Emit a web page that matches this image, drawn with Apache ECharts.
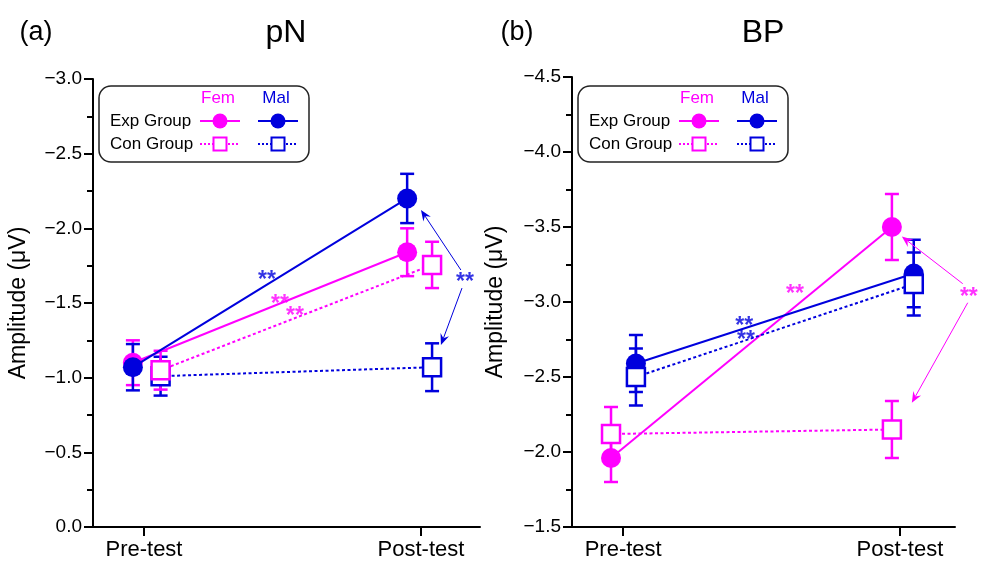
<!DOCTYPE html>
<html><head><meta charset="utf-8">
<script src="https://cdn.jsdelivr.net/npm/echarts@6/dist/echarts.min.js"></script>
<style>html,body{margin:0;padding:0;background:#fff}#c{width:981px;height:562px}</style>
</head><body><div id="c"></div>
<script>
// ---------- data ----------
const categories = ['Pre-test', 'Post-test'];
const categoryValues = [0, 1];

// Panel (a) pN: means and error (±) per time point
const pnExpFem = [-1.10, -1.84];
const pnExpFemErr = [0.15, 0.16];
const pnExpMal = [-1.07, -2.20];
const pnExpMalErr = [0.155, 0.165];
const pnConFem = [-1.05, -1.755];
const pnConFemErr = [0.13, 0.155];
const pnConMal = [-1.01, -1.07];
const pnConMalErr = [0.13, 0.16];
// horizontal jitter (axis units) used in the figure
const pnExpX = [-0.04, 0.95];
const pnConX = [0.06, 1.04];

// Panel (b) BP
const bpExpFem = [-1.96, -3.50];
const bpExpFemErr = [0.16, 0.22];
const bpExpMal = [-2.59, -3.19];
const bpExpMalErr = [0.19, 0.225];
const bpConFem = [-2.12, -2.15];
const bpConFemErr = [0.18, 0.19];
const bpConMal = [-2.50, -3.12];
const bpConMalErr = [0.19, 0.21];
const bpFemX = [-0.044, 0.971];
const bpMalX = [0.046, 1.05];

// y-axis tick settings
const pnYRange = [-3.0, 0.0];
const bpYRange = [-4.5, -1.5];
const yStep = 0.5;

// significance annotations: [x, y, text, gender]
const pnStars = [[0.444, -1.68, '**', 'mal'], [0.491, -1.52, '**', 'fem'], [0.545, -1.44, '**', 'fem'], [1.159, -1.667, '**', 'mal']];
const pnArrows = [[1.144, -1.721, 1.0, -2.123], [1.148, -1.60, 1.072, -1.219]];
const bpStars = [[0.621, -3.082, '**', 'fem'], [0.437, -2.868, '**', 'mal'], [0.444, -2.775, '**', 'mal'], [1.249, -3.062, '**', 'fem']];
const bpArrows = [[1.227, -3.122, 1.007, -3.436], [1.245, -2.995, 1.043, -2.328]];

// ---------- styles ----------
const MAG = '#ff00ff';
const BLU = '#0000dd';
const gColor = g => g === 'fem' ? MAG : BLU;

function errRender(color) {
  return function (params, api) {
    const x = api.value(0), lo = api.value(1), hi = api.value(2);
    const p1 = api.coord([x, lo]), p2 = api.coord([x, hi]);
    const w = 7;
    const st = { stroke: color, lineWidth: 2.5, fill: null };
    return { type: 'group', children: [
      { type: 'line', shape: { x1: p1[0], y1: p1[1], x2: p2[0], y2: p2[1] }, style: st },
      { type: 'line', shape: { x1: p1[0] - w, y1: p1[1], x2: p1[0] + w, y2: p1[1] }, style: st },
      { type: 'line', shape: { x1: p2[0] - w, y1: p2[1], x2: p2[0] + w, y2: p2[1] }, style: st }
    ]};
  };
}

function arrowRender(color) {
  return function (params, api) {
    const p1 = api.coord([api.value(0), api.value(1)]);
    const p2 = api.coord([api.value(2), api.value(3)]);
    const ang = Math.atan2(p2[1] - p1[1], p2[0] - p1[0]);
    const c = Math.cos(ang), s = Math.sin(ang);
    const L = 11, W = 4.5;
    const bx = p2[0] - L * c, by = p2[1] - L * s;
    const nx = p2[0] - 0.65 * L * c, ny = p2[1] - 0.65 * L * s;
    return { type: 'group', children: [
      { type: 'line', shape: { x1: p1[0], y1: p1[1], x2: nx, y2: ny }, style: { stroke: color, lineWidth: 1 } },
      { type: 'polygon', shape: { points: [p2, [bx - s * W, by + c * W], [nx, ny], [bx + s * W, by - c * W]] },
        style: { fill: color, stroke: null } }
    ]};
  };
}

function groupSeries(idx, xs, ys, errs, color, isExp, z) {
  const pts = ys.map((v, i) => [xs[i], v]);
  const errData = ys.map((v, i) => [xs[i], v - errs[i], v + errs[i]]);
  return [
    { type: 'custom', xAxisIndex: idx, yAxisIndex: idx, renderItem: errRender(color),
      data: errData, encode: { x: 0, y: [1, 2] }, z: 2, silent: true, clip: false },
    { type: 'line', xAxisIndex: idx, yAxisIndex: idx, data: pts, z: z,
      symbol: isExp ? 'circle' : 'rect', symbolSize: isExp ? 20 : 18,
      itemStyle: isExp ? { color: color } : { color: '#fff', borderColor: color, borderWidth: 2.5 },
      lineStyle: { color: color, width: 2, type: isExp ? 'solid' : [3, 2.5] },
      emphasis: { disabled: true }, silent: true, animation: false, clip: false }
  ];
}

function annoSeries(idx, stars, arrows, arrowColor) {
  return [{
    type: 'scatter', xAxisIndex: idx, yAxisIndex: idx, z: 10, silent: true, clip: false,
    symbol: 'circle', symbolSize: 1, itemStyle: { color: 'rgba(0,0,0,0)' },
    data: stars.map(s => ({ value: [s[0], s[1]],
      label: { show: true, position: 'inside', formatter: s[2], color: gColor(s[3]),
        fontSize: 23, fontWeight: 'bold', fontFamily: 'Liberation Sans, Arial', offset: [0, 5] } }))
  }, {
    type: 'custom', xAxisIndex: idx, yAxisIndex: idx, z: 10, silent: true, clip: false,
    renderItem: arrowRender(arrowColor), data: arrows, encode: { x: [0, 2], y: [1, 3] }
  }];
}

const axisCol = '#000';
function xAx(idx, min, max) {
  return { type: 'value', gridIndex: idx, min: min, max: max, position: 'bottom',
    axisLine: { onZero: false, lineStyle: { color: axisCol, width: 2 } },
    axisTick: { show: true, customValues: categoryValues, length: 9, lineStyle: { color: axisCol, width: 2 } },
    axisLabel: { customValues: categoryValues, formatter: v => categories[Math.round(v)],
      fontSize: 22, color: '#000', margin: 12, fontFamily: 'Liberation Sans, Arial' },
    splitLine: { show: false } };
}
function yAx(idx, range, gap) {
  return { type: 'value', gridIndex: idx, min: range[0], max: range[1], interval: yStep, inverse: true,
    name: 'Amplitude (\u03BCV)', nameLocation: 'middle', nameGap: gap,
    nameTextStyle: { fontSize: 23, color: '#000', fontFamily: 'Liberation Sans, Arial' },
    axisLine: { show: true, onZero: false, lineStyle: { color: axisCol, width: 2 } },
    axisTick: { show: true, length: 9, lineStyle: { color: axisCol, width: 2 } },
    minorTick: { show: true, splitNumber: 2, length: 6, lineStyle: { color: axisCol, width: 2 } },
    axisLabel: { fontSize: 19, color: '#000', margin: 11, fontFamily: 'Liberation Sans, Arial',
      formatter: v => (Math.abs(v) < 1e-9 ? '0.0' : (v < 0 ? '\u2212' : '') + Math.abs(v).toFixed(1)) },
    splitLine: { show: false }, minorSplitLine: { show: false } };
}

function legendGraphic(ox) {
  const f = 'Liberation Sans, Arial';
  const els = [
    { type: 'rect', shape: { x: 99 + ox, y: 86, width: 210, height: 76, r: 12 },
      style: { fill: '#fff', stroke: '#222', lineWidth: 1.5 } },
    { type: 'text', x: 218 + ox, y: 98, style: { text: 'Fem', fill: MAG, fontSize: 17, fontFamily: f, align: 'center', verticalAlign: 'middle' } },
    { type: 'text', x: 276 + ox, y: 98, style: { text: 'Mal', fill: BLU, fontSize: 17, fontFamily: f, align: 'center', verticalAlign: 'middle' } },
    { type: 'text', x: 110 + ox, y: 121, style: { text: 'Exp Group', fill: '#000', fontSize: 17, fontFamily: f, align: 'left', verticalAlign: 'middle' } },
    { type: 'text', x: 110 + ox, y: 144, style: { text: 'Con Group', fill: '#000', fontSize: 17, fontFamily: f, align: 'left', verticalAlign: 'middle' } }
  ];
  [[220, MAG], [278, BLU]].forEach(([cx, c]) => {
    els.push({ type: 'line', shape: { x1: cx - 20 + ox, y1: 121, x2: cx + 20 + ox, y2: 121 }, style: { stroke: c, lineWidth: 2 } });
    els.push({ type: 'circle', shape: { cx: cx + ox, cy: 121, r: 7.5 }, style: { fill: c } });
    els.push({ type: 'line', shape: { x1: cx - 20 + ox, y1: 144, x2: cx + 20 + ox, y2: 144 }, style: { stroke: c, lineWidth: 2, lineDash: [2, 2] } });
    els.push({ type: 'rect', shape: { x: cx - 6.5 + ox, y: 137.5, width: 13, height: 13 }, style: { fill: '#fff', stroke: c, lineWidth: 2 } });
  });
  return { type: 'group', children: els, z: 20 };
}

const chart = echarts.init(document.getElementById('c'), null, { renderer: 'canvas' });
const option = {
  backgroundColor: '#fff',
  animation: false,
  grid: [
    { left: 93, top: 79, width: 387, height: 448 },
    { left: 572, top: 77, width: 383, height: 450 }
  ],
  xAxis: [xAx(0, -0.184, 1.213), xAx(1, -0.185, 1.199)],
  yAxis: [yAx(0, pnYRange, 63), yAx(1, bpYRange, 65)],
  graphic: [
    { type: 'text', x: 36, y: 33, style: { text: '(a)', fontSize: 27, fill: '#000', fontFamily: 'Liberation Sans, Arial', align: 'center', verticalAlign: 'middle' } },
    { type: 'text', x: 286, y: 33, style: { text: 'pN', fontSize: 32, fill: '#000', fontFamily: 'Liberation Sans, Arial', align: 'center', verticalAlign: 'middle' } },
    { type: 'text', x: 517, y: 33, style: { text: '(b)', fontSize: 27, fill: '#000', fontFamily: 'Liberation Sans, Arial', align: 'center', verticalAlign: 'middle' } },
    { type: 'text', x: 763, y: 33, style: { text: 'BP', fontSize: 32, fill: '#000', fontFamily: 'Liberation Sans, Arial', align: 'center', verticalAlign: 'middle' } },
    legendGraphic(0),
    legendGraphic(479)
  ],
  series: [].concat(
    groupSeries(0, pnExpX, pnExpFem, pnExpFemErr, MAG, true, 3),
    groupSeries(0, pnExpX, pnExpMal, pnExpMalErr, BLU, true, 4),
    groupSeries(0, pnConX, pnConMal, pnConMalErr, BLU, false, 5),
    groupSeries(0, pnConX, pnConFem, pnConFemErr, MAG, false, 6),
    groupSeries(1, bpFemX, bpExpFem, bpExpFemErr, MAG, true, 3),
    groupSeries(1, bpMalX, bpExpMal, bpExpMalErr, BLU, true, 4),
    groupSeries(1, bpMalX, bpConMal, bpConMalErr, BLU, false, 5),
    groupSeries(1, bpFemX, bpConFem, bpConFemErr, MAG, false, 6),
    annoSeries(0, pnStars, pnArrows, BLU),
    annoSeries(1, bpStars, bpArrows, MAG)
  )
};
chart.setOption(option);
</script>
</body></html>
